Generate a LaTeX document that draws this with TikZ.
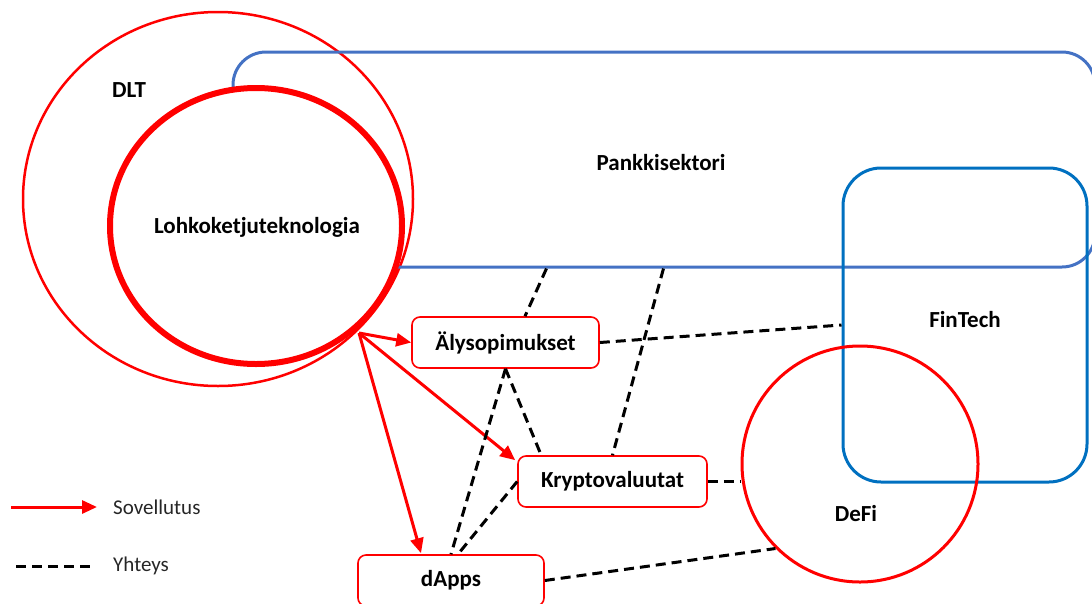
\documentclass[tikz,border=0pt]{standalone}
\usepackage{fontspec}
\setmainfont{Carlito}
\usetikzlibrary{arrows.meta,calc}
\definecolor{bankblue}{HTML}{4472C4}
\definecolor{fintechblue}{HTML}{0070C0}
\begin{document}
\begin{tikzpicture}[x=1pt,y=-1pt,
  lbl/.style={font=\fontsize{23}{27}\selectfont\bfseries, inner sep=0pt, anchor=base},
  legtext/.style={font=\fontsize{21}{25}\selectfont, inner sep=0pt, anchor=base west, text=black!85},
  appbox/.style={draw=red, line width=1.6pt, rounded corners=8pt, fill=white,
    minimum height=51pt, inner sep=0pt, font=\fontsize{23}{27}\selectfont\bfseries},
  sector/.style={draw, line width=3pt, rounded corners=#1, inner sep=0pt},
  applies/.style={draw=red, line width=3pt, -{Triangle[length=15pt,width=13pt]}},
  link/.style={draw=black, line width=3pt, dash pattern=on 10pt off 6pt},
]
\useasboundingbox (0,0) rectangle (1092,603);

% DLT: outer circle
\draw[red, line width=2.5pt, fill=white] (218,199) ellipse [x radius=195pt, y radius=187pt];
\node[lbl] (dltlabel) at (129,97) {DLT};

% Banking sector
\node[sector=33pt, draw=bankblue, minimum width=862pt, minimum height=215pt] (bank) at (664,159.5) {};
\node[lbl] (banklabel) at (661,170) {Pankkisektori};

% Blockchain technology: inner circle
\draw[red, line width=6pt, fill=white] (256,226) ellipse [x radius=146pt, y radius=138pt];
\node[lbl] (bclabel) at (257,233) {Lohkoketjuteknologia};

% FinTech and DeFi
\node[sector=38pt, draw=fintechblue, minimum width=244pt, minimum height=314pt] (fin) at (965,325) {};
\node[lbl] (finlabel) at (965,327) {FinTech};
\node[draw=red, line width=3pt, circle, minimum size=236pt, inner sep=0pt] (defi) at (860,464) {};
\node[lbl] (defilabel) at (856,521) {DeFi};

% Applications
\node[appbox, minimum width=187pt] (aly) at (505.5,342.5) {Älysopimukset};
\node[appbox, minimum width=189pt] (kry) at (612.5,481.5) {Kryptovaluutat};
\node[appbox, minimum width=186pt] (dapps) at (451,580.5) {dApps};

% Application arrows
\coordinate (src) at (359,333);
\draw[applies] (src) -- (aly.west);
\draw[applies] (src) -- ($(kry.north west)+(-2,5)$);
\draw[applies] (src) -- ($(dapps.north)+(-30,-1)$);

% Connections
\draw[link] ($(bank.south west)+(315,0)$) -- ($(aly.north)+(19.5,0)$);
\draw[link] ($(bank.south west)+(432,0)$) -- (kry.north);
\draw[link] (aly.east) -- (fin.west);
\draw[link] (aly.south) -- ($(kry.north west)+(24,0)$);
\draw[link] (aly.south) -- (dapps.north);
\draw[link] (kry.west) -- ($(dapps.north)+(7,0)$);
\draw[link] (kry.east) -- (kry.east -| defi.west);
\draw[link] (dapps.east) -- (defi.225);

% Legend
\coordinate (s1) at (11,507);
\coordinate (s2) at (97,507);
\draw[applies] (s1) -- (s2);
\node[legtext] (sov) at (113,514) {Sovellutus};
\coordinate (y1) at (16,566);
\coordinate (y2) at (90,566);
\draw[link] (y1) -- (y2);
\node[legtext] (yht) at (113,571) {Yhteys};
\end{tikzpicture}
\end{document}
